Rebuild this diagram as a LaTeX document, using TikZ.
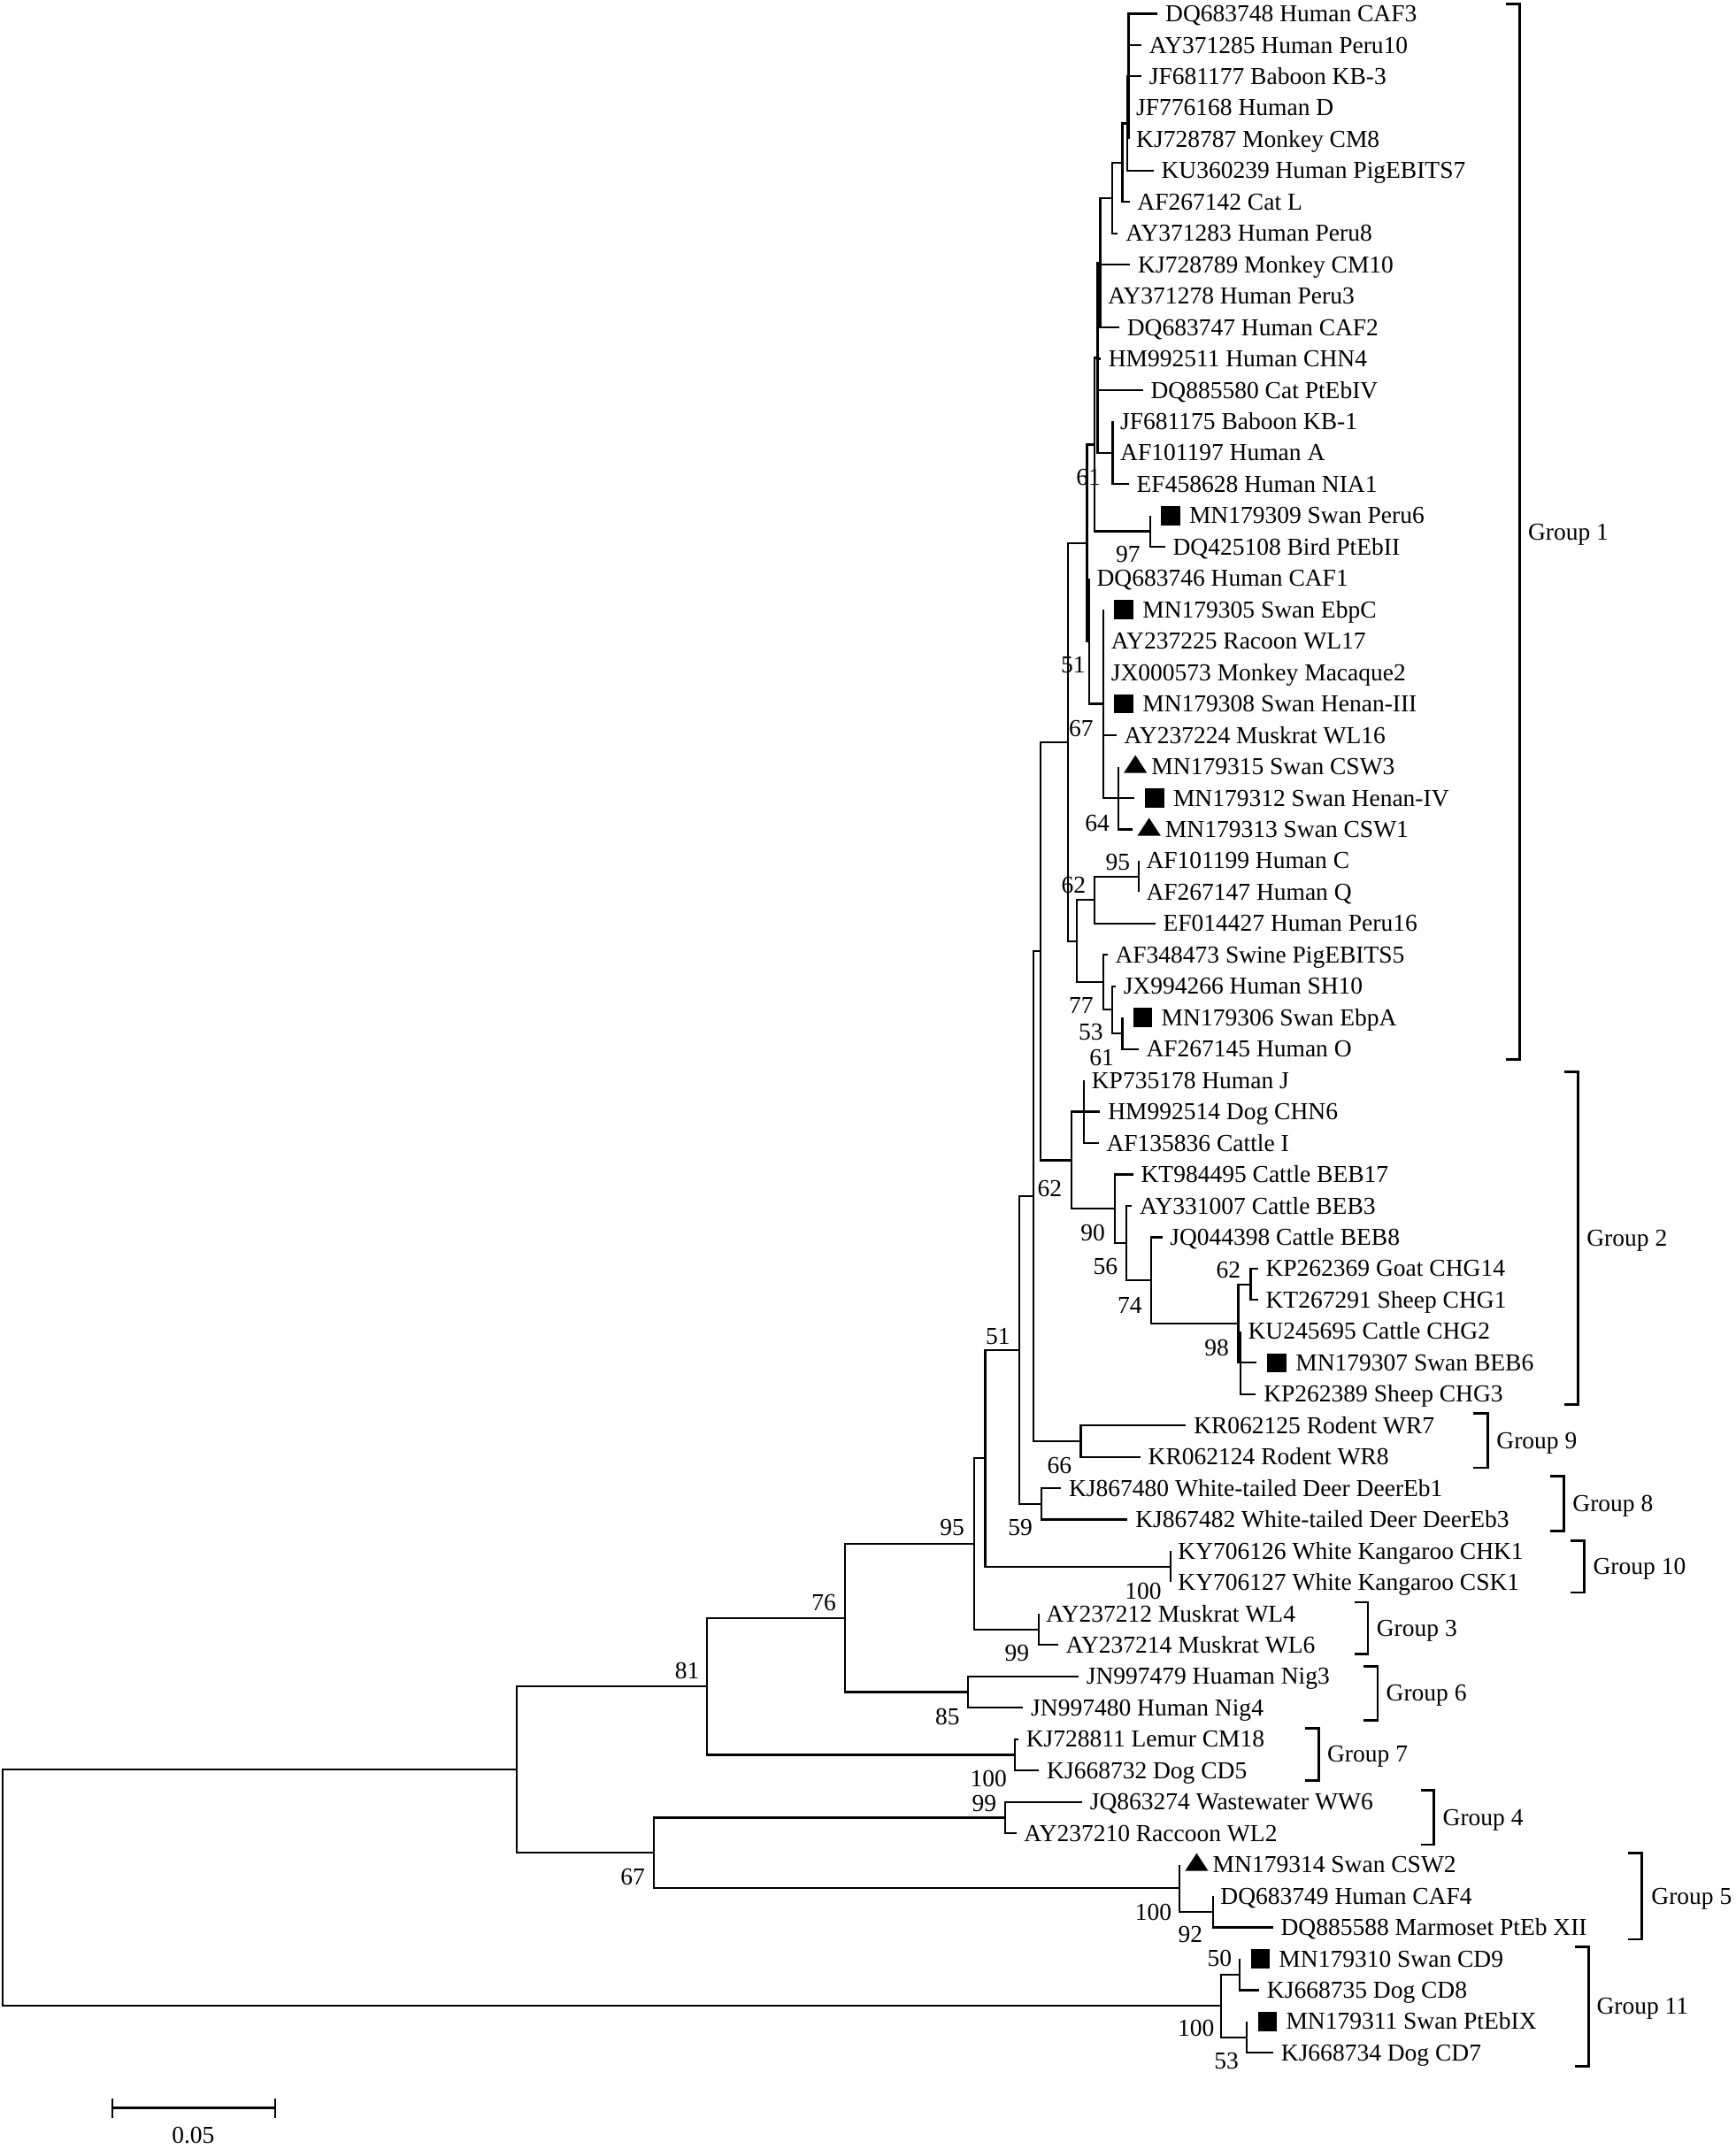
\documentclass[tikz,border=0pt]{standalone}
\usepackage{fontspec}
\setmainfont{Liberation Serif}
\usetikzlibrary{positioning,shapes.geometric}

\begin{document}
\begin{tikzpicture}[
  x=0.5633pt, y=-0.5633pt,
  font=\fontsize{10}{12}\selectfont,
  ramo/.style={line width=0.8pt},
  rotulo/.style={anchor=west, inner sep=0pt, text height=6.6pt, text depth=0pt},
  suporte/.style={inner sep=0pt},
  quad/.style={fill=black, inner sep=0pt, minimum size=7.8pt},
  tri/.style={isosceles triangle, shape border rotate=90, isosceles triangle stretches,
              fill=black, inner sep=0pt, minimum width=9.5pt, minimum height=7.3pt},
  chave/.style={line width=1pt},
  grupo/.style={anchor=west, inner sep=0pt, text height=6.6pt, text depth=0pt},
  node distance=3pt
]
  \useasboundingbox (0,0) rectangle (1266,1568);

  % Nos internos
  \coordinate (raiz) at (2,1377.35);
  \coordinate (na) at (377,1291.2);
  \coordinate (n81) at (516,1230.4);
  \coordinate (n76) at (616.4,1180.5);
  \coordinate (n95) at (710.9,1126.4);
  \coordinate (v16) at (718.8,1064.0);
  \coordinate (v15) at (743.5,985.0);
  \coordinate (v14) at (754.2,872.75);
  \coordinate (v13) at (759.2,694.0);
  \coordinate (v11) at (779,541.4);
  \coordinate (v8) at (793,396.1);
  \coordinate (v7) at (798.4,324.4);
  \coordinate (v4b) at (800.8,261.1);
  \coordinate (v4) at (802.7,191.7);
  \coordinate (v3) at (811.3,144.5);
  \coordinate (v2) at (818.8,118.7);
  \coordinate (v1) at (822.6,90.1);
  \coordinate (v1a) at (823.3,55.78);
  \coordinate (v5) at (811.7,330.46);
  \coordinate (v6) at (839,387.7);
  \coordinate (v9) at (794.5,467.8);
  \coordinate (v10) at (805,513.58);
  \coordinate (n64) at (816,582.25);
  \coordinate (v12) at (785.4,686.7);
  \coordinate (n62a) at (798.4,656.7);
  \coordinate (n95a) at (830.6,639.5);
  \coordinate (n77) at (804.8,716.7);
  \coordinate (n53a) at (811.3,736.7);
  \coordinate (n61) at (818.8,753.9);
  \coordinate (n62c) at (781.6,846.6);
  \coordinate (nj) at (790.8,811.15);
  \coordinate (n90) at (813.4,882.0);
  \coordinate (n56) at (821.6,907.0);
  \coordinate (n74) at (839.7,934.2);
  \coordinate (n98) at (903.4,965.66);
  \coordinate (n62b) at (912.4,937.05);
  \coordinate (nx) at (904.9,994.27);
  \coordinate (nr) at (788.5,1051.5);
  \coordinate (nd) at (760,1097.3);
  \coordinate (nk) at (853.8,1143.05);
  \coordinate (nm) at (757.6,1188.8);
  \coordinate (n85) at (706.2,1234.6);
  \coordinate (nc) at (740.4,1280.4);
  \coordinate (n67) at (477,1351.9);
  \coordinate (n99) at (733.2,1326.2);
  \coordinate (n100c) at (860.7,1377.7);
  \coordinate (n92) at (884.8,1394.85);
  \coordinate (n100d) at (891,1463.5);
  \coordinate (n50) at (904.5,1440.6);
  \coordinate (n53b) at (909.7,1486.4);

  % Pontas dos ramos
  \coordinate (t1) at (844.6,10);
  \coordinate (t2) at (832.8,32.89);
  \coordinate (t3) at (832.8,55.78);
  \coordinate (t4) at (823.3,78.67);
  \coordinate (t5) at (823.3,101.56);
  \coordinate (t6) at (841.6,124.45);
  \coordinate (t7) at (824.1,147.34);
  \coordinate (t8) at (815.6,170.23);
  \coordinate (t9) at (824.6,193.12);
  \coordinate (t10) at (802.7,216.01);
  \coordinate (t11) at (816.6,238.90);
  \coordinate (t12) at (803,261.79);
  \coordinate (t13) at (833.9,284.68);
  \coordinate (t14) at (811.7,307.57);
  \coordinate (t15) at (811.7,330.46);
  \coordinate (t16) at (823.6,353.35);
  \coordinate (t17) at (839,376.24);
  \coordinate (t18) at (850,399.13);
  \coordinate (t19) at (794.5,422.02);
  \coordinate (t20) at (805,444.91);
  \coordinate (t21) at (805,467.80);
  \coordinate (t22) at (805,490.69);
  \coordinate (t23) at (805,513.58);
  \coordinate (t24) at (814.5,536.47);
  \coordinate (t25) at (816,559.36);
  \coordinate (t26) at (827.4,582.25);
  \coordinate (t27) at (826,605.14);
  \coordinate (t28) at (830.6,628.03);
  \coordinate (t29) at (830.6,650.92);
  \coordinate (t30) at (842.9,673.81);
  \coordinate (t31) at (808,696.70);
  \coordinate (t32) at (814,719.59);
  \coordinate (t33) at (818.8,742.48);
  \coordinate (t34) at (830.6,765.37);
  \coordinate (t35) at (790.8,788.26);
  \coordinate (t36) at (802.7,811.15);
  \coordinate (t37) at (801.6,834.04);
  \coordinate (t38) at (826.8,856.93);
  \coordinate (t39) at (825.9,879.82);
  \coordinate (t40) at (847.9,902.71);
  \coordinate (t41) at (917.8,925.60);
  \coordinate (t42) at (917.8,948.49);
  \coordinate (t43) at (904.9,971.38);
  \coordinate (t44) at (916.7,994.27);
  \coordinate (t45) at (916.3,1017.16);
  \coordinate (t46) at (865.3,1040.05);
  \coordinate (t47) at (832,1062.94);
  \coordinate (t48) at (774.2,1085.83);
  \coordinate (t49) at (822.7,1108.72);
  \coordinate (t50) at (853.8,1131.61);
  \coordinate (t51) at (853.8,1154.50);
  \coordinate (t52) at (757.6,1177.39);
  \coordinate (t53) at (772,1200.28);
  \coordinate (t54) at (786.9,1223.17);
  \coordinate (t55) at (746.5,1246.06);
  \coordinate (t56) at (743,1268.95);
  \coordinate (t57) at (758.1,1291.84);
  \coordinate (t58) at (789.5,1314.73);
  \coordinate (t59) at (741.4,1337.62);
  \coordinate (t60) at (860.7,1360.51);
  \coordinate (t61) at (884.8,1383.40);
  \coordinate (t62) at (928.8,1406.29);
  \coordinate (t63) at (904.5,1429.18);
  \coordinate (t64) at (918.7,1452.07);
  \coordinate (t65) at (909.7,1474.96);
  \coordinate (t66) at (929,1497.85);

  % Ramos
  \draw[ramo] (raiz) |- (na) (raiz) |- (n100d);
  \draw[ramo] (na) |- (n81) (na) |- (n67);
  \draw[ramo] (n81) |- (n76) (n81) |- (nc);
  \draw[ramo] (n76) |- (n95) (n76) |- (n85);
  \draw[ramo] (n95) |- (v16) (n95) |- (nm);
  \draw[ramo] (v16) |- (v15) (v16) |- (nk);
  \draw[ramo] (v15) |- (v14) (v15) |- (nd);
  \draw[ramo] (v14) |- (v13) (v14) |- (nr);
  \draw[ramo] (v13) |- (v11) (v13) |- (n62c);
  \draw[ramo] (v11) |- (v8) (v11) |- (v12);
  \draw[ramo] (v8) |- (v7) (v8) |- (v9);
  \draw[ramo] (v7) |- (v4b) (v7) |- (v6);
  \draw[ramo] (v4b) |- (v4) (v4b) |- (t12) (v4b) |- (t13) (v4b) |- (v5);
  \draw[ramo] (v4) |- (v3) (v4) |- (t9) (v4) |- (t10) (v4) |- (t11);
  \draw[ramo] (v3) |- (v2) (v3) |- (t8);
  \draw[ramo] (v2) |- (v1) (v2) |- (t7);
  \draw[ramo] (v1) |- (v1a) (v1) |- (t6);
  \draw[ramo] (v1a) |- (t1) (v1a) |- (t2) (v1a) |- (t3) (v1a) |- (t4) (v1a) |- (t5);
  \draw[ramo] (v5) |- (t14) (v5) |- (t15) (v5) |- (t16);
  \draw[ramo] (v6) |- (t17) (v6) |- (t18);
  \draw[ramo] (v9) |- (t19) (v9) |- (v10);
  \draw[ramo] (v10) |- (t20) (v10) |- (t24) (v10) |- (n64);
  \draw[ramo] (n64) |- (t25) (n64) |- (t26) (n64) |- (t27);
  \draw[ramo] (v12) |- (n62a) (v12) |- (n77);
  \draw[ramo] (n62a) |- (n95a) (n62a) |- (t30);
  \draw[ramo] (n95a) |- (t28) (n95a) |- (t29);
  \draw[ramo] (n77) |- (t31) (n77) |- (n53a);
  \draw[ramo] (n53a) |- (t32) (n53a) |- (n61);
  \draw[ramo] (n61) |- (t33) (n61) |- (t34);
  \draw[ramo] (n62c) |- (nj) (n62c) |- (n90);
  \draw[ramo] (nj) |- (t35) (nj) |- (t36) (nj) |- (t37);
  \draw[ramo] (n90) |- (t38) (n90) |- (n56);
  \draw[ramo] (n56) |- (t39) (n56) |- (n74);
  \draw[ramo] (n74) |- (t40) (n74) |- (n98);
  \draw[ramo] (n98) |- (n62b) (n98) |- (nx);
  \draw[ramo] (n62b) |- (t41) (n62b) |- (t42);
  \draw[ramo] (nx) |- (t43) (nx) |- (t44) (nx) |- (t45);
  \draw[ramo] (nr) |- (t46) (nr) |- (t47);
  \draw[ramo] (nd) |- (t48) (nd) |- (t49);
  \draw[ramo] (nk) |- (t50) (nk) |- (t51);
  \draw[ramo] (nm) |- (t52) (nm) |- (t53);
  \draw[ramo] (n85) |- (t54) (n85) |- (t55);
  \draw[ramo] (nc) |- (t56) (nc) |- (t57);
  \draw[ramo] (n67) |- (n99) (n67) |- (n100c);
  \draw[ramo] (n99) |- (t58) (n99) |- (t59);
  \draw[ramo] (n100c) |- (t60) (n100c) |- (n92);
  \draw[ramo] (n92) |- (t61) (n92) |- (t62);
  \draw[ramo] (n100d) |- (n50) (n100d) |- (n53b);
  \draw[ramo] (n50) |- (t63) (n50) |- (t64);
  \draw[ramo] (n53b) |- (t65) (n53b) |- (t66);

  % Marcas das amostras de cisne
  \node[quad, right=4.3pt of t17] (m17) {};
  \node[quad, right=4.3pt of t20] (m20) {};
  \node[quad, right=4.3pt of t23] (m23) {};
  \node[tri, right=3.6pt of t25] (m25) {};
  \node[quad, right=4.3pt of t26] (m26) {};
  \node[tri, right=3.6pt of t27] (m27) {};
  \node[quad, right=4.3pt of t33] (m33) {};
  \node[quad, right=4.3pt of t44] (m44) {};
  \node[tri, right=3.6pt of t60] (m60) {};
  \node[quad, right=4.3pt of t63] (m63) {};
  \node[quad, right=4.3pt of t65] (m65) {};

  % Rotulos das sequencias
  \node[rotulo, right=of t1] (f1) {DQ683748 Human CAF3};
  \node[rotulo, right=of t2] (f2) {AY371285 Human Peru10};
  \node[rotulo, right=of t3] (f3) {JF681177 Baboon KB-3};
  \node[rotulo, right=of t4] (f4) {JF776168 Human D};
  \node[rotulo, right=of t5] (f5) {KJ728787 Monkey CM8};
  \node[rotulo, right=of t6] (f6) {KU360239 Human PigEBITS7};
  \node[rotulo, right=of t7] (f7) {AF267142 Cat L};
  \node[rotulo, right=of t8] (f8) {AY371283 Human Peru8};
  \node[rotulo, right=of t9] (f9) {KJ728789 Monkey CM10};
  \node[rotulo, right=of t10] (f10) {AY371278 Human Peru3};
  \node[rotulo, right=of t11] (f11) {DQ683747 Human CAF2};
  \node[rotulo, right=of t12] (f12) {HM992511 Human CHN4};
  \node[rotulo, right=of t13] (f13) {DQ885580 Cat PtEbIV};
  \node[rotulo, right=of t14] (f14) {JF681175 Baboon KB-1};
  \node[rotulo, right=of t15] (f15) {AF101197 Human A};
  \node[rotulo, right=of t16] (f16) {EF458628 Human NIA1};
  \node[rotulo, right=3.4pt of m17] (f17) {MN179309 Swan Peru6};
  \node[rotulo, right=of t18] (f18) {DQ425108 Bird PtEbII};
  \node[rotulo, right=of t19] (f19) {DQ683746 Human CAF1};
  \node[rotulo, right=3.4pt of m20] (f20) {MN179305 Swan EbpC};
  \node[rotulo, right=of t21] (f21) {AY237225 Racoon WL17};
  \node[rotulo, right=of t22] (f22) {JX000573 Monkey Macaque2};
  \node[rotulo, right=3.4pt of m23] (f23) {MN179308 Swan Henan-III};
  \node[rotulo, right=of t24] (f24) {AY237224 Muskrat WL16};
  \node[rotulo, right=3.1pt of m25] (f25) {MN179315 Swan CSW3};
  \node[rotulo, right=3.4pt of m26] (f26) {MN179312 Swan Henan-IV};
  \node[rotulo, right=3.1pt of m27] (f27) {MN179313 Swan CSW1};
  \node[rotulo, right=of t28] (f28) {AF101199 Human C};
  \node[rotulo, right=of t29] (f29) {AF267147 Human Q};
  \node[rotulo, right=of t30] (f30) {EF014427 Human Peru16};
  \node[rotulo, right=of t31] (f31) {AF348473 Swine PigEBITS5};
  \node[rotulo, right=of t32] (f32) {JX994266 Human SH10};
  \node[rotulo, right=3.4pt of m33] (f33) {MN179306 Swan EbpA};
  \node[rotulo, right=of t34] (f34) {AF267145 Human O};
  \node[rotulo, right=of t35] (f35) {KP735178 Human J};
  \node[rotulo, right=of t36] (f36) {HM992514 Dog CHN6};
  \node[rotulo, right=of t37] (f37) {AF135836 Cattle I};
  \node[rotulo, right=of t38] (f38) {KT984495 Cattle BEB17};
  \node[rotulo, right=of t39] (f39) {AY331007 Cattle BEB3};
  \node[rotulo, right=of t40] (f40) {JQ044398 Cattle BEB8};
  \node[rotulo, right=of t41] (f41) {KP262369 Goat CHG14};
  \node[rotulo, right=of t42] (f42) {KT267291 Sheep CHG1};
  \node[rotulo, right=of t43] (f43) {KU245695 Cattle CHG2};
  \node[rotulo, right=3.4pt of m44] (f44) {MN179307 Swan BEB6};
  \node[rotulo, right=of t45] (f45) {KP262389 Sheep CHG3};
  \node[rotulo, right=of t46] (f46) {KR062125 Rodent WR7};
  \node[rotulo, right=of t47] (f47) {KR062124 Rodent WR8};
  \node[rotulo, right=of t48] (f48) {KJ867480 White-tailed Deer DeerEb1};
  \node[rotulo, right=of t49] (f49) {KJ867482 White-tailed Deer DeerEb3};
  \node[rotulo, right=of t50] (f50) {KY706126 White Kangaroo CHK1};
  \node[rotulo, right=of t51] (f51) {KY706127 White Kangaroo CSK1};
  \node[rotulo, right=of t52] (f52) {AY237212 Muskrat WL4};
  \node[rotulo, right=of t53] (f53) {AY237214 Muskrat WL6};
  \node[rotulo, right=of t54] (f54) {JN997479 Huaman Nig3};
  \node[rotulo, right=of t55] (f55) {JN997480 Human Nig4};
  \node[rotulo, right=of t56] (f56) {KJ728811 Lemur CM18};
  \node[rotulo, right=of t57] (f57) {KJ668732 Dog CD5};
  \node[rotulo, right=of t58] (f58) {JQ863274 Wastewater WW6};
  \node[rotulo, right=of t59] (f59) {AY237210 Raccoon WL2};
  \node[rotulo, right=3.1pt of m60] (f60) {MN179314 Swan CSW2};
  \node[rotulo, right=of t61] (f61) {DQ683749 Human CAF4};
  \node[rotulo, right=of t62] (f62) {DQ885588 Marmoset PtEb XII};
  \node[rotulo, right=3.4pt of m63] (f63) {MN179310 Swan CD9};
  \node[rotulo, right=of t64] (f64) {KJ668735 Dog CD8};
  \node[rotulo, right=3.4pt of m65] (f65) {MN179311 Swan PtEbIX};
  \node[rotulo, right=of t66] (f66) {KJ668734 Dog CD7};

  % Valores de bootstrap
  \node[suporte] (b1) at (794,348.6) {61};
  \node[suporte] (b2) at (823,404.6) {97};
  \node[suporte] (b3) at (783,485) {51};
  \node[suporte] (b4) at (788.7,531.5) {67};
  \node[suporte] (b5) at (800.5,600.4) {64};
  \node[suporte] (b6) at (815.6,629.4) {95};
  \node[suporte] (b7) at (783.3,645.6) {62};
  \node[suporte] (b8) at (788.7,733.8) {77};
  \node[suporte] (b9) at (795.8,753.2) {53};
  \node[suporte] (b10) at (803.7,771.5) {61};
  \node[suporte] (b11) at (765.9,867.2) {62};
  \node[suporte] (b12) at (797.3,899.5) {90};
  \node[suporte] (b13) at (806.5,924.3) {56};
  \node[suporte] (b14) at (824.2,952.2) {74};
  \node[suporte] (b15) at (896.3,926.4) {62};
  \node[suporte] (b16) at (887.7,983.4) {98};
  \node[suporte] (b17) at (728,974.8) {51};
  \node[suporte] (b18) at (773,1069.5) {66};
  \node[suporte] (b19) at (744.3,1114.7) {59};
  \node[suporte] (b20) at (694.6,1114.2) {95};
  \node[suporte] (b21) at (834,1161) {100};
  \node[suporte] (b22) at (742,1206.2) {99};
  \node[suporte] (b23) at (601,1169.3) {76};
  \node[suporte] (b24) at (691.2,1252.4) {85};
  \node[suporte] (b25) at (501.4,1219) {81};
  \node[suporte] (b26) at (721.2,1297.6) {100};
  \node[suporte] (b27) at (718,1315.9) {99};
  \node[suporte] (b28) at (461.6,1369.7) {67};
  \node[suporte] (b29) at (841.4,1395.5) {100};
  \node[suporte] (b30) at (868.5,1411.7) {92};
  \node[suporte] (b31) at (889.7,1428.7) {50};
  \node[suporte] (b32) at (872.6,1480) {100};
  \node[suporte] (b33) at (894.8,1503.6) {53};

  % Chaves dos grupos
  \draw[chave] (1098.5,3) -| (1108.7,773) -- (1098.5,773);
  \node[grupo] (gr1) at (1114.5,388) {Group 1};
  \draw[chave] (1141,782) -| (1151.3,1025) -- (1141,1025);
  \node[grupo] (gr2) at (1157.3,903.5) {Group 2};
  \draw[chave] (1075,1031) -| (1085.6,1071) -- (1075,1071);
  \node[grupo] (gr9) at (1091.5,1051) {Group 9};
  \draw[chave] (1131,1077) -| (1141,1117) -- (1131,1117);
  \node[grupo] (gr8) at (1147,1097) {Group 8};
  \draw[chave] (1146,1124) -| (1156,1162) -- (1146,1162);
  \node[grupo] (gr10) at (1162,1143) {Group 10};
  \draw[chave] (988,1169) -| (998,1207) -- (988,1207);
  \node[grupo] (gr3) at (1004,1188) {Group 3};
  \draw[chave] (995,1216) -| (1005,1255) -- (995,1255);
  \node[grupo] (gr6) at (1011,1235) {Group 6};
  \draw[chave] (952,1261) -| (962,1299) -- (952,1299);
  \node[grupo] (gr7) at (968,1280) {Group 7};
  \draw[chave] (1036.5,1306) -| (1046.2,1346) -- (1036.5,1346);
  \node[grupo] (gr4) at (1052.3,1326) {Group 4};
  \draw[chave] (1188,1352) -| (1198,1415) -- (1188,1415);
  \node[grupo] (gr5) at (1204.5,1383.5) {Group 5};
  \draw[chave] (1149,1420.3) -| (1159.2,1507.4) -- (1149,1507.4);
  \node[grupo] (gr11) at (1164.5,1463.5) {Group 11};

  % Barra de escala
  \coordinate (e0) at (82,1538);
  \coordinate (e1) at (201,1538);
  \draw[ramo] (e0) -- (e1);
  \draw[ramo] ([yshift=4pt]e0) -- ([yshift=-4pt]e0);
  \draw[ramo] ([yshift=4pt]e1) -- ([yshift=-4pt]e1);
  \node[suporte] (esc) at (141,1558) {0.05};
\end{tikzpicture}
\end{document}
